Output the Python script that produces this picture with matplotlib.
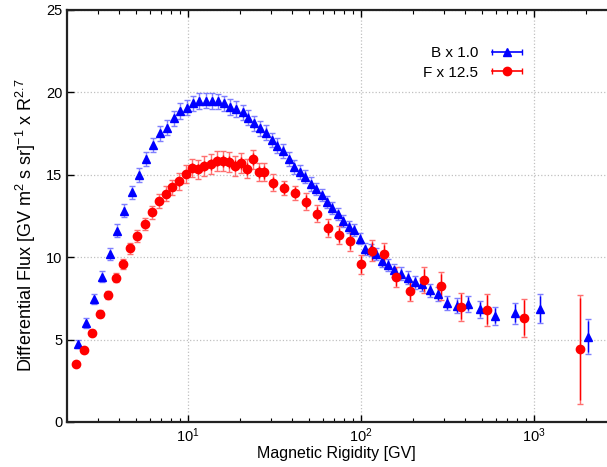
import matplotlib
matplotlib.use("Agg")
import matplotlib.pyplot as plt
from matplotlib.lines import Line2D
from matplotlib.legend_handler import HandlerLine2D, HandlerTuple

plt.rcParams['font.family'] = ['Liberation Sans', 'DejaVu Sans']
plt.rcParams['mathtext.fontset'] = 'custom'
plt.rcParams['mathtext.rm'] = 'Liberation Sans'
plt.rcParams['mathtext.it'] = 'Liberation Sans:italic'

# B x 1.0 (triangles)
b_rig = [2.30, 2.57, 2.86, 3.18, 3.54, 3.90, 4.28, 4.73, 5.21, 5.74,
         6.28, 6.89, 7.56, 8.27, 8.99, 9.83, 10.7, 11.6, 12.7, 13.8,
         15.0, 16.2, 17.6, 19.0, 20.7, 22.3, 24.1, 26.1, 28.1, 30.5,
         32.8, 35.3, 38.1, 41.1, 44.2, 47.6, 51.2, 55.1, 59.1, 63.8,
         68.4, 73.4, 79.0, 84.9, 91.1, 98.0, 106, 114, 122, 132,
         143, 155, 170, 186, 205, 226, 251, 279, 315, 358,
         417, 488, 597, 777, 1083, 2060]
b_flux = [4.73, 6.03, 7.45, 8.82, 10.19, 11.60, 12.83, 13.93, 14.99, 15.98,
          16.81, 17.52, 17.86, 18.43, 18.87, 19.07, 19.34, 19.48, 19.50, 19.48,
          19.46, 19.34, 19.10, 19.00, 18.78, 18.47, 18.12, 17.82, 17.56, 17.11,
          16.77, 16.46, 15.96, 15.47, 15.18, 14.89, 14.44, 14.14, 13.77, 13.35,
          13.00, 12.61, 12.18, 11.85, 11.67, 11.13, 10.48, 10.44, 10.19, 9.76,
          9.55, 9.20, 9.00, 8.75, 8.48, 8.35, 7.99, 7.76, 7.23, 7.05,
          7.17, 6.84, 6.44, 6.60, 6.86, 5.18]
b_err = [0.25, 0.30, 0.32, 0.35, 0.38, 0.40, 0.42, 0.42, 0.42, 0.43,
         0.44, 0.45, 0.45, 0.46, 0.46, 0.47, 0.47, 0.47, 0.47, 0.47,
         0.47, 0.47, 0.47, 0.47, 0.47, 0.47, 0.46, 0.46, 0.45, 0.45,
         0.44, 0.43, 0.42, 0.42, 0.41, 0.40, 0.40, 0.39, 0.38, 0.38,
         0.37, 0.37, 0.37, 0.37, 0.37, 0.36, 0.36, 0.36, 0.36, 0.36,
         0.37, 0.38, 0.38, 0.39, 0.40, 0.40, 0.41, 0.42, 0.43, 0.45,
         0.47, 0.50, 0.53, 0.64, 0.88, 1.05]
b_stat = [0.08, 0.10, 0.12, 0.14, 0.16, 0.18, 0.20, 0.20, 0.20, 0.21,
          0.21, 0.22, 0.22, 0.22, 0.23, 0.23, 0.23, 0.23, 0.24, 0.24,
          0.24, 0.25, 0.25, 0.25, 0.26, 0.26, 0.26, 0.26, 0.26, 0.26,
          0.26, 0.26, 0.26, 0.26, 0.26, 0.26, 0.26, 0.26, 0.26, 0.26,
          0.26, 0.26, 0.26, 0.26, 0.26, 0.26, 0.27, 0.27, 0.27, 0.27,
          0.28, 0.29, 0.29, 0.30, 0.31, 0.32, 0.33, 0.34, 0.36, 0.38,
          0.40, 0.43, 0.46, 0.56, 0.78, 0.95]

# F x 12.5 (circles)
f_rig = [2.25, 2.52, 2.80, 3.11, 3.46, 3.84, 4.21, 4.64, 5.09, 5.62,
         6.17, 6.77, 7.43, 8.10, 8.85, 9.70, 10.55, 11.42, 12.43, 13.53,
         14.65, 15.87, 17.19, 18.69, 20.33, 21.85, 23.66, 25.63, 27.61, 30.87,
         36.0, 41.7, 48.3, 55.9, 64.6, 74.6, 86.2, 99.7, 116, 135,
         159, 191, 232, 290, 378, 533, 875, 1845]
f_flux = [3.50, 4.35, 5.42, 6.57, 7.72, 8.76, 9.57, 10.54, 11.29, 12.03,
          12.73, 13.41, 13.84, 14.23, 14.60, 15.05, 15.43, 15.33, 15.55, 15.64,
          15.84, 15.84, 15.76, 15.55, 15.70, 15.37, 15.94, 15.19, 15.15, 14.52,
          14.20, 13.91, 13.37, 12.64, 11.75, 11.35, 10.98, 9.56, 10.39, 10.19,
          8.80, 7.95, 8.60, 8.26, 7.00, 6.80, 6.33, 4.41]
f_err = [0.10, 0.12, 0.15, 0.20, 0.25, 0.28, 0.30, 0.33, 0.34, 0.37,
         0.40, 0.43, 0.45, 0.46, 0.50, 0.52, 0.55, 0.58, 0.60, 0.62,
         0.63, 0.63, 0.62, 0.60, 0.60, 0.58, 0.58, 0.55, 0.55, 0.50,
         0.45, 0.42, 0.50, 0.52, 0.55, 0.57, 0.60, 0.60, 0.65, 0.65,
         0.60, 0.60, 0.78, 0.83, 0.85, 0.97, 1.15, 3.30]
f_stat = [0.06, 0.07, 0.08, 0.10, 0.12, 0.14, 0.15, 0.17, 0.18, 0.19,
          0.20, 0.22, 0.23, 0.24, 0.26, 0.27, 0.29, 0.30, 0.31, 0.32,
          0.33, 0.34, 0.35, 0.35, 0.36, 0.36, 0.37, 0.37, 0.38, 0.36,
          0.34, 0.33, 0.38, 0.40, 0.43, 0.45, 0.48, 0.49, 0.54, 0.55,
          0.52, 0.53, 0.68, 0.73, 0.76, 0.88, 1.05, 3.10]

fig = plt.figure(figsize=(6.07, 4.67), dpi=100)
ax = fig.add_axes([0.1105, 0.0964, 0.9053, 0.8822])

# total errors (light), stat errors + markers (solid)
ax.errorbar(b_rig, b_flux, yerr=b_err, fmt='none', ecolor='#7f7fff',
            elinewidth=1.0, capsize=2, capthick=1.0, zorder=2)
ax.errorbar(b_rig, b_flux, yerr=b_stat, fmt='^', color='#0000ff', ms=5.5,
            elinewidth=1.0, capsize=0, zorder=3)
ax.errorbar(f_rig, f_flux, yerr=f_err, fmt='none', ecolor='#ff7070',
            elinewidth=1.0, capsize=2, capthick=1.0, zorder=2)
ax.errorbar(f_rig, f_flux, yerr=f_stat, fmt='o', color='#ff0000', ms=6,
            elinewidth=1.0, capsize=0, zorder=3)

ax.set_xscale('log')
ax.set_xlim(2, 3000)
ax.set_ylim(0, 25)
ax.set_yticks([0, 5, 10, 15, 20, 25])

ax.grid(True, which='major', ls=':', color='#c0c0c0', lw=0.9)
ax.set_axisbelow(True)
ax.tick_params(which='both', direction='in', top=True, right=False, labelsize=10.5, colors='black')
ax.tick_params(which='major', length=5, width=1)
ax.tick_params(which='minor', length=3, width=0.8)
for s in ax.spines.values():
    s.set_linewidth(1.6)
    s.set_color('#222222')

ax.set_xlabel('Magnetic Rigidity [GV]', fontsize=11.5)
ax.set_ylabel(r'Differential Flux [GV m$^{2}$ s sr]$^{-1}$ x R$^{2.7}$', fontsize=13)
ax.yaxis.set_label_coords(-0.053, 0.478)
ax.xaxis.set_label_coords(0.49, -0.058)

# gnuplot-like legend keys: horizontal bar with caps and the marker in the middle
cap_b = Line2D([], [], color='#0000ff', lw=1.2, marker='|', ms=5, mew=1)
cap_f = Line2D([], [], color='#ff0000', lw=1.2, marker='|', ms=5, mew=1)
mk_b = Line2D([], [], color='#0000ff', marker='^', ls='none', ms=5.5)
mk_f = Line2D([], [], color='#ff0000', marker='o', ls='none', ms=6)
ax.legend([(cap_b, mk_b), (cap_f, mk_f)], ['B x 1.0', 'F x 12.5'],
          handler_map={cap_b: HandlerLine2D(numpoints=2),
                       cap_f: HandlerLine2D(numpoints=2),
                       tuple: HandlerTuple(ndivide=1)},
          markerfirst=False, frameon=False, fontsize=11, handlelength=2.6,
          handletextpad=0.6, labelspacing=0.35,
          loc='upper right', bbox_to_anchor=(0.862, 0.945))

fig.savefig('out.png', dpi=100)
